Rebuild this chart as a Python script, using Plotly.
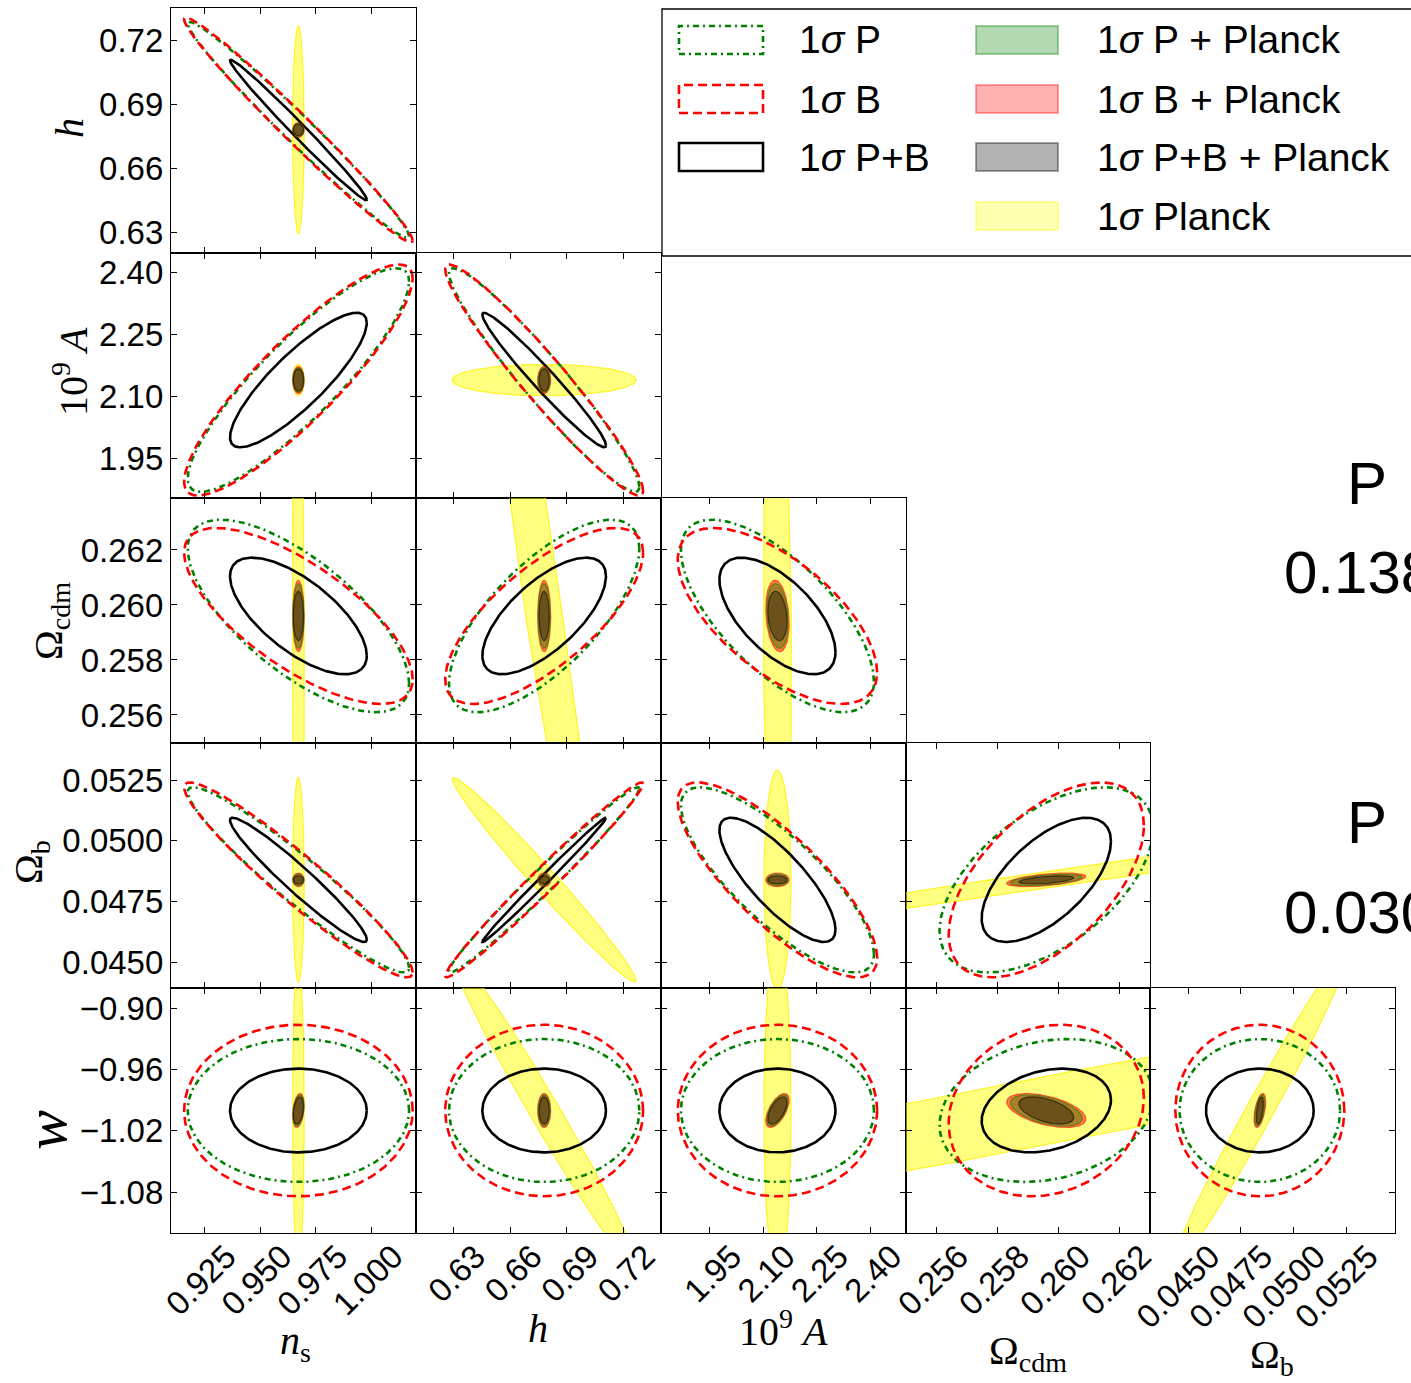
import numpy as np
import plotly.graph_objects as go

W, H = 1411, 1383

# ---------------- data ----------------
PARAMS = ["ns", "h", "A", "Ocdm", "Ob", "w"]
FIDUCIAL = [0.9672, 0.678, 2.140, 0.2596, 0.0484, -1.000]

# 1-sigma contour half-extents for each parameter
SIG_P = [0.0497, 0.0505, 0.271, 0.00350, 0.00380, 0.070]
SIG_B = [0.0513, 0.0525, 0.280, 0.00320, 0.00400, 0.084]
SIG_PB = [0.0307, 0.0328, 0.163, 0.00212, 0.00255, 0.041]
SIG_P_PL = [0.0025, 0.0032, 0.030, 0.00118, 0.00024, 0.0155]
SIG_B_PL = [0.0026, 0.0035, 0.033, 0.00130, 0.00028, 0.0167]
SIG_PB_PL = [0.0023, 0.0027, 0.027, 0.00090, 0.00017, 0.0134]

# panels: (row parameter index, column parameter index)
PANELS = [(1, 0), (2, 0), (2, 1), (3, 0), (3, 1), (3, 2), (4, 0), (4, 1), (4, 2), (4, 3),
          (5, 0), (5, 1), (5, 2), (5, 3), (5, 4)]
RHO_P = [-0.984, 0.88, -0.955, -0.70, 0.70, -0.68, -0.95, 0.985, -0.80, 0.55,
         0.0, 0.0, 0.0, 0.20, 0.0]
RHO_B = [-0.984, 0.88, -0.958, -0.72, 0.72, -0.64, -0.95, 0.985, -0.80, 0.56,
         0.0, 0.0, 0.0, 0.15, 0.0]
RHO_PB = [-0.990, 0.85, -0.972, -0.68, 0.68, -0.62, -0.96, 0.995, -0.80, 0.62,
          0.0, 0.0, 0.0, 0.25, 0.0]
RHO_P_PL = [0.0, 0.0, 0.0, 0.0, 0.0, -0.2, 0.0, 0.0, 0.0, 0.5, 0.3, 0.0, 0.6, -0.5, 0.5]
RHO_B_PL = [0.0, 0.0, 0.0, 0.0, 0.0, -0.2, 0.0, 0.0, 0.0, 0.5, 0.3, 0.0, 0.6, -0.5, 0.5]
RHO_PB_PL = [0.0, 0.0, 0.0, 0.0, 0.0, -0.2, 0.0, 0.0, 0.0, 0.5, 0.3, 0.0, 0.6, -0.5, 0.5]
# Planck alone, per panel: (x half-extent, y half-extent, correlation)
PLANCK = [(0.0026, 0.0486, 0.0), (0.0026, 0.038, 0.0), (0.0488, 0.038, 0.0),
          (0.0026, 0.0233, 0.0), (0.0488, 0.0233, -0.98), (0.0388, 0.0233, 0.0),
          (0.0026, 0.0042, 0.0), (0.0488, 0.0042, -0.985), (0.038, 0.0045, 0.0),
          (0.0229, 0.0042, 0.9967),
          (0.0026, 0.155, 0.0), (0.0488, 0.153, -0.983), (0.038, 0.17, 0.0),
          (0.0233, 0.138, 0.97), (0.0042, 0.156, 0.985)]

TICKS = {
    "ns": ([0.925, 0.950, 0.975, 1.000], ["0.925", "0.950", "0.975", "1.000"]),
    "h": ([0.63, 0.66, 0.69, 0.72], ["0.63", "0.66", "0.69", "0.72"]),
    "A": ([1.95, 2.10, 2.25, 2.40], ["1.95", "2.10", "2.25", "2.40"]),
    "Ocdm": ([0.256, 0.258, 0.260, 0.262], ["0.256", "0.258", "0.260", "0.262"]),
    "Ob": ([0.0450, 0.0475, 0.0500, 0.0525], ["0.0450", "0.0475", "0.0500", "0.0525"]),
    "w": ([-1.08, -1.02, -0.96, -0.90], ["\u22121.08", "\u22121.02", "\u22120.96", "\u22120.90"]),
}
XRANGE = {"ns": [0.910, 1.020], "h": [0.610, 0.740], "A": [1.813, 2.501],
          "Ocdm": [0.2550, 0.2630], "Ob": [0.0432, 0.0548]}
YRANGE = {"h": [0.6205, 0.735], "A": [1.854, 2.448], "Ocdm": [0.25498, 0.26389],
          "Ob": [0.04396, 0.05402], "w": [-1.12, -0.88]}

LEGEND_LINES = ["1<i>σ</i> P", "1<i>σ</i> B", "1<i>σ</i> P+B"]
LEGEND_FILLS = ["1<i>σ</i> P + Planck", "1<i>σ</i> B + Planck", "1<i>σ</i> P+B + Planck", "1<i>σ</i> Planck"]
SIDE_TEXT = [("P", "0.138"), ("P", "0.030")]

# ---------------- layout geometry ----------------
COL_PX = [171, 416, 661, 906, 1150, 1395]
ROW_PX = [8, 253, 498, 743, 988, 1233]
GREEN_DASH = "6px,4px,2px,4px"
RED_DASH = "9px,5px"


def px(x):
    return x / W


def py(y):
    return 1 - y / H


def ellipse(cx, cy, sx, sy, rho, n=241):
    t = np.linspace(0, 2 * np.pi, n)
    x = cx + sx * np.cos(t)
    y = cy + sy * (rho * np.cos(t) + np.sqrt(max(1 - rho ** 2, 0)) * np.sin(t))
    return x, y


fig = go.Figure()
TICKFONT = dict(family="Liberation Sans, Arial", size=33, color="black")

for k, (ri, ci) in enumerate(PANELS):
    n = k + 1
    xa = "x" if n == 1 else f"x{n}"
    ya = "y" if n == 1 else f"y{n}"
    cx, cy = FIDUCIAL[ci], FIDUCIAL[ri]

    # Planck alone
    sx, sy, r = PLANCK[k]
    ex, ey = ellipse(cx, cy, sx, sy, r)
    fig.add_trace(go.Scatter(x=ex, y=ey, xaxis=xa, yaxis=ya, mode="lines", fill="toself",
                             fillcolor="rgba(255,255,0,0.5)",
                             line=dict(color="rgba(255,240,0,0.8)", width=1.2),
                             showlegend=False, hoverinfo="skip"))
    # survey contours
    for sig, rho, col, dash in [(SIG_P, RHO_P, "#008000", GREEN_DASH),
                                (SIG_B, RHO_B, "#ff0000", RED_DASH),
                                (SIG_PB, RHO_PB, "black", "solid")]:
        ex, ey = ellipse(cx, cy, sig[ci], sig[ri], rho[k])
        fig.add_trace(go.Scatter(x=ex, y=ey, xaxis=xa, yaxis=ya, mode="lines",
                                 line=dict(color=col, width=2.6, dash=dash),
                                 showlegend=False, hoverinfo="skip"))
    # combined with Planck
    for sig, rho, fc, lc in [(SIG_B_PL, RHO_B_PL, "rgba(255,0,0,0.5)", "rgba(255,0,0,0.55)"),
                             (SIG_P_PL, RHO_P_PL, "rgba(0,128,0,0.35)", "rgba(0,128,0,0.5)"),
                             (SIG_PB_PL, RHO_PB_PL, "rgba(0,0,0,0.35)", "rgba(0,0,0,0.55)")]:
        ex, ey = ellipse(cx, cy, sig[ci], sig[ri], rho[k])
        fig.add_trace(go.Scatter(x=ex, y=ey, xaxis=xa, yaxis=ya, mode="lines", fill="toself",
                                 fillcolor=fc, line=dict(color=lc, width=1.2),
                                 showlegend=False, hoverinfo="skip"))

    xname, yname = PARAMS[ci], PARAMS[ri]
    common = dict(showline=True, linecolor="black", linewidth=1.2, mirror="ticks",
                  ticks="inside", ticklen=6, tickwidth=1, tickcolor="black",
                  showgrid=False, zeroline=False, tickfont=TICKFONT, fixedrange=True,
                  automargin=False)
    xkey = "xaxis" if n == 1 else f"xaxis{n}"
    ykey = "yaxis" if n == 1 else f"yaxis{n}"
    fig.update_layout({
        xkey: dict(common, domain=[px(COL_PX[ci]), px(COL_PX[ci + 1])], range=XRANGE[xname],
                   tickvals=TICKS[xname][0], ticktext=TICKS[xname][1], anchor=ya,
                   showticklabels=(ri == 5), tickangle=-45, ticklabelshift=22,
                   ticklabelstandoff=-10),
        ykey: dict(common, domain=[py(ROW_PX[ri]), py(ROW_PX[ri - 1])], range=YRANGE[yname],
                   tickvals=TICKS[yname][0], ticktext=TICKS[yname][1], anchor=xa,
                   showticklabels=(ci == 0), ticklabelstandoff=0),
    })

annotations = []
SERIF = "Liberation Serif, DejaVu Serif"
# bottom axis labels
for text, x, y in [("<i>n</i><sub>s</sub>", 295, 1343), ("<i>h</i>", 538, 1328),
                   ("10<sup>9</sup> <i>A</i>", 783, 1328), ("Ω<sub>cdm</sub>", 1028, 1353),
                   ("Ω<sub>b</sub>", 1272, 1357)]:
    annotations.append(dict(text=text, x=px(x), y=py(y), xref="paper", yref="paper",
                            showarrow=False, font=dict(family=SERIF, size=40, color="black"),
                            xanchor="center", yanchor="middle"))
# left axis labels
for text, x, y, s in [("<i>h</i>", 70, 128, 40), ("10<sup>9</sup> <i>A</i>", 70, 372, 40),
                      ("Ω<sub>cdm</sub>", 51, 621, 40), ("Ω<sub>b</sub>", 31, 862, 40),
                      ("<i>w</i>", 46, 1130, 60)]:
    annotations.append(dict(text=text, x=px(x), y=py(y), xref="paper", yref="paper",
                            showarrow=False, textangle=-90,
                            font=dict(family=SERIF, size=s, color="black"),
                            xanchor="center", yanchor="middle"))
# right-hand texts (cut off by the figure edge, as in the original)
for (lab, val), (y1, y2) in zip(SIDE_TEXT, [(483, 572), (822, 912)]):
    annotations.append(dict(text=lab, x=px(1345), y=py(y1), xref="paper", yref="paper",
                            showarrow=False, xanchor="left", yanchor="middle",
                            font=dict(family="Liberation Sans, Arial", size=60, color="black")))
    annotations.append(dict(text=val, x=px(1282), y=py(y2), xref="paper", yref="paper",
                            showarrow=False, xanchor="left", yanchor="middle",
                            font=dict(family="Liberation Sans, Arial", size=60, color="black")))

# legend (drawn as layout shapes + text)
shapes = [dict(type="rect", xref="paper", yref="paper", x0=px(662), x1=px(1480),
               y0=py(256), y1=py(9), line=dict(color="black", width=1.3))]
LROWS = [40, 99, 157, 216]
for (txt, col, dash), yc in zip([(LEGEND_LINES[0], "#008000", GREEN_DASH),
                                 (LEGEND_LINES[1], "#ff0000", RED_DASH),
                                 (LEGEND_LINES[2], "black", "solid")], LROWS):
    shapes.append(dict(type="rect", xref="paper", yref="paper", x0=px(679), x1=px(763),
                       y0=py(yc + 14), y1=py(yc - 14), line=dict(color=col, width=2.6, dash=dash)))
    annotations.append(dict(text=txt, x=px(797), y=py(yc), xref="paper", yref="paper",
                            showarrow=False, xanchor="left", yanchor="middle",
                            font=dict(family="Liberation Sans, Arial", size=39, color="black")))
for (txt, fc, lc), yc in zip([(LEGEND_FILLS[0], "rgba(0,128,0,0.3)", "rgba(0,128,0,0.35)"),
                              (LEGEND_FILLS[1], "rgba(255,0,0,0.3)", "rgba(255,0,0,0.35)"),
                              (LEGEND_FILLS[2], "rgba(0,0,0,0.3)", "rgba(0,0,0,0.35)"),
                              (LEGEND_FILLS[3], "rgba(255,255,0,0.3)", "rgba(255,255,0,0.35)")], LROWS):
    shapes.append(dict(type="rect", xref="paper", yref="paper", x0=px(976), x1=px(1058),
                       y0=py(yc + 14), y1=py(yc - 14), fillcolor=fc, line=dict(color=lc, width=2)))
    annotations.append(dict(text=txt, x=px(1095), y=py(yc), xref="paper", yref="paper",
                            showarrow=False, xanchor="left", yanchor="middle",
                            font=dict(family="Liberation Sans, Arial", size=39, color="black")))

fig.update_layout(width=W, height=H,
                  margin=dict(l=0, r=0, t=0, b=0, pad=0, autoexpand=False),
                  paper_bgcolor="white", plot_bgcolor="white",
                  annotations=annotations, shapes=shapes, showlegend=False)
fig.write_html("out.html")
